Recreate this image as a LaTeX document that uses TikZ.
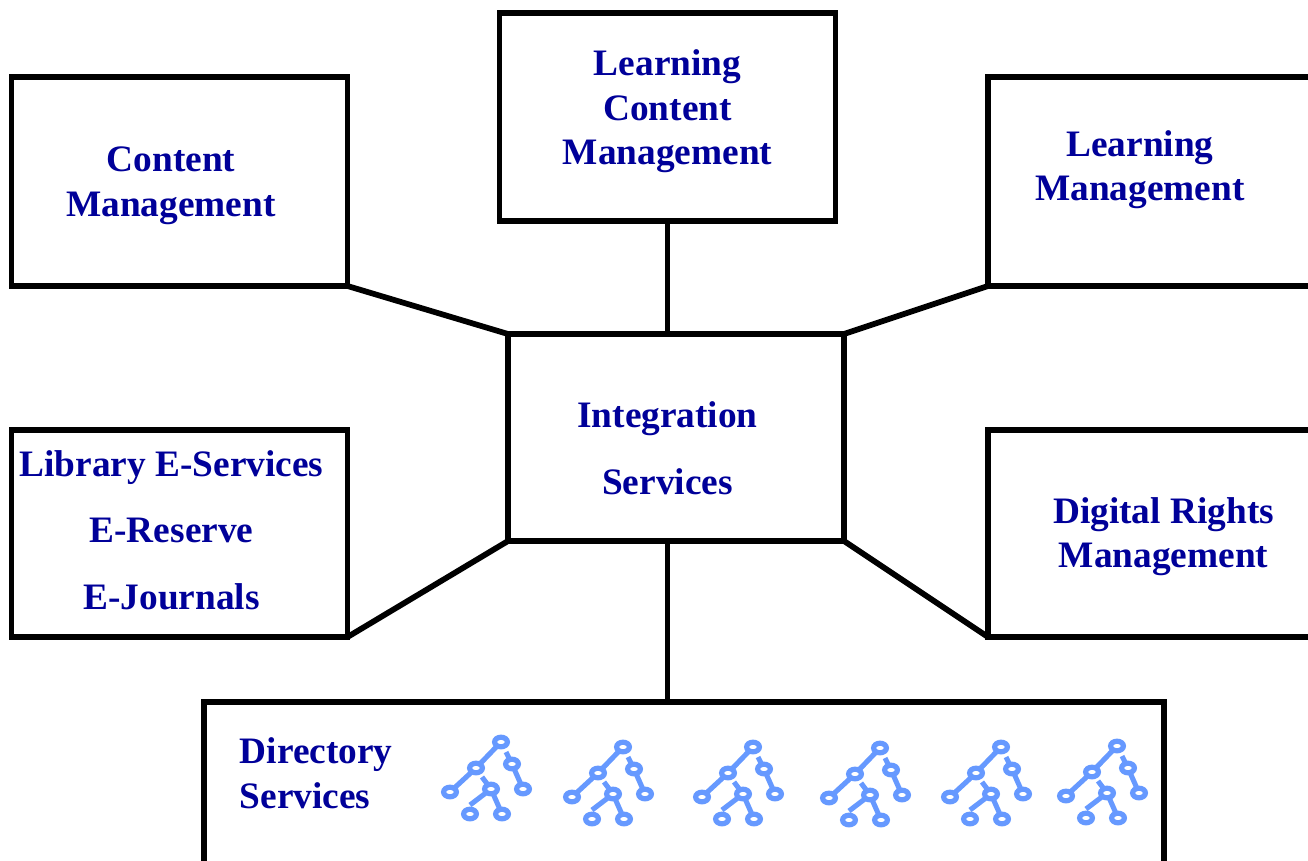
\documentclass[tikz,border=0pt]{standalone}
\usepackage{fontspec}
\setmainfont{Liberation Serif}
\usetikzlibrary{shapes.geometric}
\definecolor{labelblue}{RGB}{0,0,153}
\definecolor{treeblue}{RGB}{102,153,255}
\tikzset{
  servicebox/.style 2 args = {draw=black, line width=4.3pt, inner sep=0pt, outer sep=0pt,
    minimum width=#1*0.75pt, minimum height=#2*0.75pt},
  link/.style = {draw=black, line width=4.3pt},
  label_n/.style = {align=center, inner sep=0pt, text=labelblue,
    font=\fontsize{28}{33.4}\selectfont\bfseries},
  label_w/.style = {align=center, inner sep=0pt, text=labelblue,
    font=\fontsize{28}{50}\selectfont\bfseries},
  ring/.style = {ellipse, draw=treeblue, line width=3.9pt, inner sep=0pt, outer sep=0pt,
    minimum width=9.6pt, minimum height=7.2pt},
  branch/.style = {draw=treeblue, line width=3.8pt},
  dirtree/.pic = {
    \node [ring] (-a) at (0,0) {};
    \node [ring] (-b) at (-25,26) {};
    \node [ring] (-c) at (11,22) {};
    \node [ring] (-d) at (-51,50) {};
    \node [ring] (-e) at (22,47) {};
    \node [ring] (-f) at (-10,47) {};
    \node [ring] (-g) at (-31,72) {};
    \node [ring] (-h) at (1,72) {};
    \coordinate (-p) at (-19,35);
    \coordinate (-q) at (5,10);
    \coordinate (-r) at (-31,63);
    \draw [branch] (-d) -- (-b) -- (-a);
    \draw [branch] (-q) -- (-c) -- (-e);
    \draw [branch] (-p) -- (-f) -- (-h);
    \draw [branch] (-r) -- (-f);
  },
}

\begin{document}
\begin{tikzpicture}[x=0.75pt, y=-0.75pt]
  \useasboundingbox (0,0) rectangle (1308,860);
  \clip (0,0) rectangle (1308,860);

  % boxes
  \node [servicebox={336}{209}] (content) at (179.5,181.5) {};
  \node [servicebox={336}{208}] (lcm) at (667.5,117) {};
  \node [servicebox={400}{209}] (lms) at (1188,181.5) {};
  \node [servicebox={336}{207}] (integ) at (676,437.5) {};
  \node [servicebox={336}{207}] (library) at (179.5,533.5) {};
  \node [servicebox={400}{207}] (drm) at (1188,533.5) {};
  \node [servicebox={960}{198}] (directory) at (684,801) {};

  % links
  \draw [link] (content.south east) -- (integ.north west);
  \draw [link] (lms.south west) -- (integ.north east);
  \draw [link] (library.south east) -- (integ.south west);
  \draw [link] (drm.south west) -- (integ.south east);
  \draw [link] (lcm.south) -- (lcm.south |- integ.north);
  \draw [link] (lcm.south |- integ.south) -- (lcm.south |- directory.north);

  % labels
  \node [label_n] (contenttext) at (171,185.5) {Content\\Management};
  \node [label_n] (lcmtext) at (667.5,111.5) {Learning\\Content\\Management};
  \node [label_n] (lmstext) at (1140,169.5) {Learning\\Management};
  \node [label_w] (integtext) at (667.5,448) {Integration\\Services};
  \node [label_w] (librarytext) at (171.5,530) {Library E-Services\\E-Reserve\\E-Journals};
  \node [label_n] (drmtext) at (1163.5,536.5) {Digital Rights\\Management};
  \node [label_n, align=left, anchor=west] (directorytext) at (239.5,773) {Directory\\Services};

  % trees
  \pic (t1) at (501,742) {dirtree};
  \pic (t2) at (623,747) {dirtree};
  \pic (t3) at (753,747) {dirtree};
  \pic (t4) at (880,748) {dirtree};
  \pic (t5) at (1001,747) {dirtree};
  \pic (t6) at (1117,746) {dirtree};
\end{tikzpicture}
\end{document}
